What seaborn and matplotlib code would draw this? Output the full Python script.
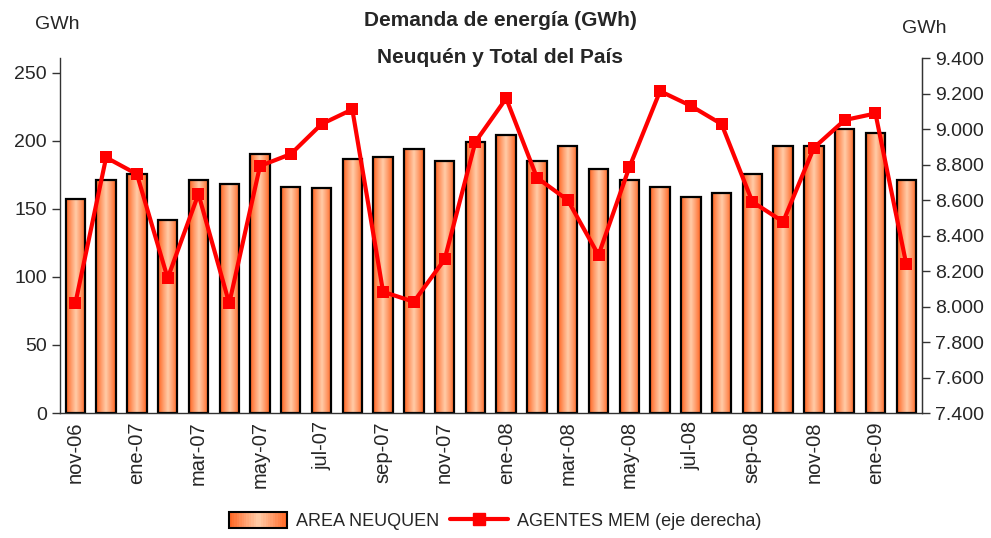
import numpy as np
import pandas as pd
import matplotlib
matplotlib.use("Agg")
import matplotlib.pyplot as plt
import seaborn as sns
from matplotlib.colors import LinearSegmentedColormap
from matplotlib.ticker import FuncFormatter, FixedLocator
from matplotlib.lines import Line2D
from matplotlib.patches import Patch, Rectangle
from matplotlib.legend_handler import HandlerBase

# Data
months = ["nov-06", "dic-06", "ene-07", "feb-07", "mar-07", "abr-07", "may-07",
          "jun-07", "jul-07", "ago-07", "sep-07", "oct-07", "nov-07", "dic-07",
          "ene-08", "feb-08", "mar-08", "abr-08", "may-08", "jun-08", "jul-08",
          "ago-08", "sep-08", "oct-08", "nov-08", "dic-08", "ene-09", "feb-09"]
area_neuquen = [157, 171, 176, 142, 171, 168, 190, 166, 165, 187, 188, 194, 185, 199,
                204, 185, 196, 179, 171, 166, 159, 162, 176, 196, 196, 209, 206, 171]
agentes_mem = [8018, 8840, 8746, 8160, 8634, 8018, 8792, 8859, 9028, 9111, 8083, 8027,
               8266, 8928, 9173, 8726, 8600, 8290, 8784, 9214, 9131, 9028, 8590, 8478,
               8895, 9051, 9088, 8239]

df = pd.DataFrame({"Mes": months, "Area": area_neuquen, "MEM": agentes_mem})
df["pos"] = np.arange(len(df))

sns.set_style("white")
plt.rcParams["font.family"] = ["Liberation Sans", "DejaVu Sans"]

grad_cmap = LinearSegmentedColormap.from_list(
    "orange_grad", ["#FF6420", "#FF9A68", "#FFCCA8", "#FF9A68", "#FF6420"])


class GradientHandler(HandlerBase):
    # legend box filled with the same horizontal gradient as the bars
    def create_artists(self, legend, orig_handle, xdescent, ydescent,
                       width, height, fontsize, trans):
        arts = []
        n = 24
        for i in range(n):
            r = Rectangle((-xdescent + width * i / n, -ydescent), width / n + 0.3, height,
                          facecolor=grad_cmap((i + 0.5) / n), edgecolor="none",
                          transform=trans)
            arts.append(r)
        arts.append(Rectangle((-xdescent, -ydescent), width, height, facecolor="none",
                              edgecolor="black", linewidth=1.5, transform=trans))
        return arts


fig = plt.figure(figsize=(9.91, 5.38), dpi=100)
ax = fig.add_axes([0.0605, 0.2323, 0.8695, 0.6597])

sns.barplot(data=df, x="Mes", y="Area", color="#FF9A66", width=0.63,
            edgecolor="black", linewidth=1.6, ax=ax)

# gradient fill inside each bar
grad = np.linspace(0, 1, 64).reshape(1, -1)
for p in ax.patches:
    x0, y0 = p.get_x(), p.get_y()
    w, h = p.get_width(), p.get_height()
    im = ax.imshow(grad, cmap=grad_cmap, aspect="auto",
                   extent=[x0, x0 + w, y0, y0 + h], zorder=1.5, interpolation="bilinear")
    im.set_clip_path(p)
    p.set_facecolor("none")
    p.set_zorder(2)

ax.set_xlim(-0.5, len(months) - 0.5)
ax.set_ylim(0, 260.8)
ax.set_yticks([0, 50, 100, 150, 200, 250])
ax.set_xlabel("")
ax.set_ylabel("")

# x ticks: labels every two months, tick marks at category boundaries
ax.set_xticks(df["pos"][::2])
ax.set_xticklabels(months[::2], rotation=90, fontsize=14.5)
ax.tick_params(axis="x", which="major", length=0, pad=6)
ax.xaxis.set_minor_locator(FixedLocator(np.arange(-0.5, len(months), 1)))
ax.tick_params(axis="x", which="minor", length=5, width=1, direction="out", color="#333333")
ax.tick_params(axis="y", length=6, width=1, direction="out", labelsize=14, color="#333333")

for s in ["left", "bottom", "right"]:
    ax.spines[s].set_color("#333333")
    ax.spines[s].set_linewidth(1)
ax.spines["top"].set_visible(False)

# right axis: line series
ax2 = ax.twinx()
sns.lineplot(data=df, x="pos", y="MEM", color="#FF0000", linewidth=3,
             marker="s", markersize=9, markeredgewidth=0, ax=ax2, zorder=5)
ax2.set_ylim(7400, 9400)
ax2.set_yticks(np.arange(7400, 9401, 200))
ax2.yaxis.set_major_formatter(FuncFormatter(lambda v, _: f"{v:,.0f}".replace(",", ".")))
ax2.tick_params(axis="y", length=6, width=1, direction="out", labelsize=14, color="#333333")
ax2.set_ylabel("")
ax2.set_xlabel("")
ax2.set_xlim(-0.5, len(months) - 0.5)
ax2.spines["top"].set_visible(False)
ax2.spines["right"].set_color("#333333")
ax2.spines["left"].set_visible(False)
ax2.spines["bottom"].set_visible(False)

# titles and units
fig.text(0.505, 0.962, "Demanda de energía (GWh)", ha="center", va="center",
         fontsize=15, fontweight="bold")
fig.text(0.505, 0.894, "Neuquén y Total del País", ha="center", va="center",
         fontsize=15, fontweight="bold")
fig.text(0.058, 0.954, "GWh", ha="center", va="center", fontsize=14)
fig.text(0.933, 0.947, "GWh", ha="center", va="center", fontsize=14)

# legend
handles = [Patch(facecolor="#FF9A66", edgecolor="black"),
           Line2D([0], [0], color="#FF0000", linewidth=3, marker="s", markersize=8)]
fig.legend(handles, ["AREA NEUQUEN", "AGENTES MEM (eje derecha)"],
           loc="center", bbox_to_anchor=(0.5, 0.031), ncol=2, frameon=False,
           fontsize=13, handlelength=3.2, handleheight=1.0, columnspacing=0.6,
           handletextpad=0.5, handler_map={Patch: GradientHandler()})

fig.savefig("out.png", dpi=100)
